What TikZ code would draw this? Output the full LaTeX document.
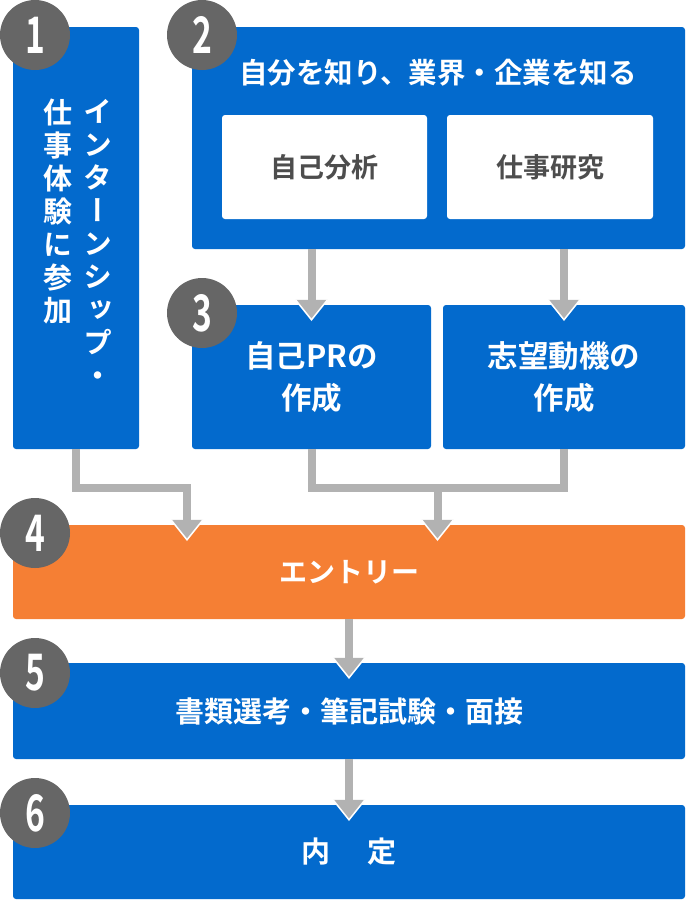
\documentclass[tikz,border=0pt]{standalone}
\usepackage{fontspec}
\setmainfont{Noto Sans CJK JP}[BoldFont={Noto Sans CJK JP Bold}]
\newfontfamily\vjp{Noto Sans CJK JP Bold}[RawFeature=+vert]
\usetikzlibrary{calc}

\definecolor{flowblue}{RGB}{3,106,205}
\definecolor{floworange}{RGB}{245,127,52}
\definecolor{flowgray}{RGB}{178,178,178}
\definecolor{numgray}{RGB}{102,102,102}
\definecolor{textgray}{RGB}{77,77,77}

\tikzset{flowline/.style={draw=flowgray,line width=8pt,line join=miter}}

\newcommand{\stepnum}[1]{\scalebox{0.7}[1.05]{#1}}
\newcommand{\flowhead}[1]{%
    \fill[flowgray] ($(#1)+(-16,-5)$) -- ($(#1)+(0,15)$) -- ($(#1)+(16,-5)$) -- cycle;
    \draw[white,line width=1.5pt] ($(#1)+(-16,-5)$) -- ($(#1)+(0,15)$) -- ($(#1)+(16,-5)$);}

\begin{document}
\begin{tikzpicture}[x=1pt,y=-1pt]
        \useasboundingbox (0,0) rectangle (686,900);

        \begin{scope}[every node/.style={rectangle,rounded corners=3pt,fill=flowblue,text=white,inner sep=0pt,align=center,font=\bfseries\fontsize{29}{42}\selectfont}]
            \node[minimum width=126pt,minimum height=422pt] (intern) at (76,238) {};
            \node[minimum width=493pt,minimum height=222pt] (know) at (438.5,138) {};
            \node[minimum width=239pt,minimum height=144pt,font=\bfseries\fontsize{30.5}{42}\selectfont] (pr) at (311.5,377) {自己PRの\\作成};
            \node[minimum width=242pt,minimum height=144pt,font=\bfseries\fontsize{30.5}{42}\selectfont] (motive) at (564,377) {志望動機の\\作成};
            \node[minimum width=672pt,minimum height=94pt,fill=floworange,font=\bfseries\fontsize{28}{42}\selectfont] (entry) at (349,572) {エントリー};
            \node[minimum width=672pt,minimum height=96pt] (exam) at (349,711) {書類選考・筆記試験・面接};
            \node[minimum width=672pt,minimum height=94pt] (offer) at (349,852) {内\hspace{37pt}定};
        \end{scope}

        \begin{scope}[every node/.style={rectangle,rounded corners=3pt,fill=white,text=textgray,inner sep=0pt,minimum height=104pt,font=\bfseries\fontsize{27}{30}\selectfont}]
            \node[minimum width=205pt] (self) at (324.5,167) {自己分析};
            \node[minimum width=206pt] (work) at (550,167) {仕事研究};
        \end{scope}

        \node[text=white,font=\bfseries\fontsize{28.5}{30}\selectfont] (knowtitle) at (438,73) {自分を知り、業界・企業を知る};

        % vertical label of step 1
        \begin{scope}[every node/.style={anchor=north,inner sep=0pt,align=center,text=white,font=\vjp\fontsize{29}{33}\selectfont}]
            \node (internA) at (98,99) {イ\\ン\\タ\\ー\\ン\\シ\\ッ\\プ\\・};
            \node (internB) at (58,99) {仕\\事\\体\\験\\に\\参\\加};
        \end{scope}

        % connectors
        \coordinate (jl) at (187,487.5);
        \coordinate (jr) at (437.5,487.5);
        \coordinate (inl) at (jl |- entry.north);
        \coordinate (inr) at (jr |- entry.north);

        \draw[flowline] (know.south -| pr) -- ($(pr.north)+(0,-4)$);
        \draw[flowline] (know.south -| motive) -- ($(motive.north)+(0,-4)$);
        \draw[flowline] (intern.south) |- (jl) -- ($(inl)+(0,-4)$);
        \draw[flowline] (pr.south) |- (jr) -| (motive.south);
        \draw[flowline] (jr) -- ($(inr)+(0,-4)$);
        \draw[flowline] (entry.south) -- ($(exam.north)+(0,-4)$);
        \draw[flowline] (exam.south) -- ($(offer.north)+(0,-4)$);

        \flowhead{pr.north}
        \flowhead{motive.north}
        \flowhead{inl}
        \flowhead{inr}
        \flowhead{exam.north}
        \flowhead{offer.north}

        \begin{scope}[every node/.style={circle,fill=numgray,text=white,minimum size=70pt,inner sep=0pt,font=\bfseries\fontsize{48}{48}\selectfont}]
            \node (s1) at (35,35) {\stepnum{1}};
            \node (s2) at (202,35) {\stepnum{2}};
            \node (s3) at (202,313) {\stepnum{3}};
            \node (s4) at (35,533) {\stepnum{4}};
            \node (s5) at (35,673) {\stepnum{5}};
            \node (s6) at (35,813) {\stepnum{6}};
        \end{scope}
    \end{tikzpicture}
\end{document}
